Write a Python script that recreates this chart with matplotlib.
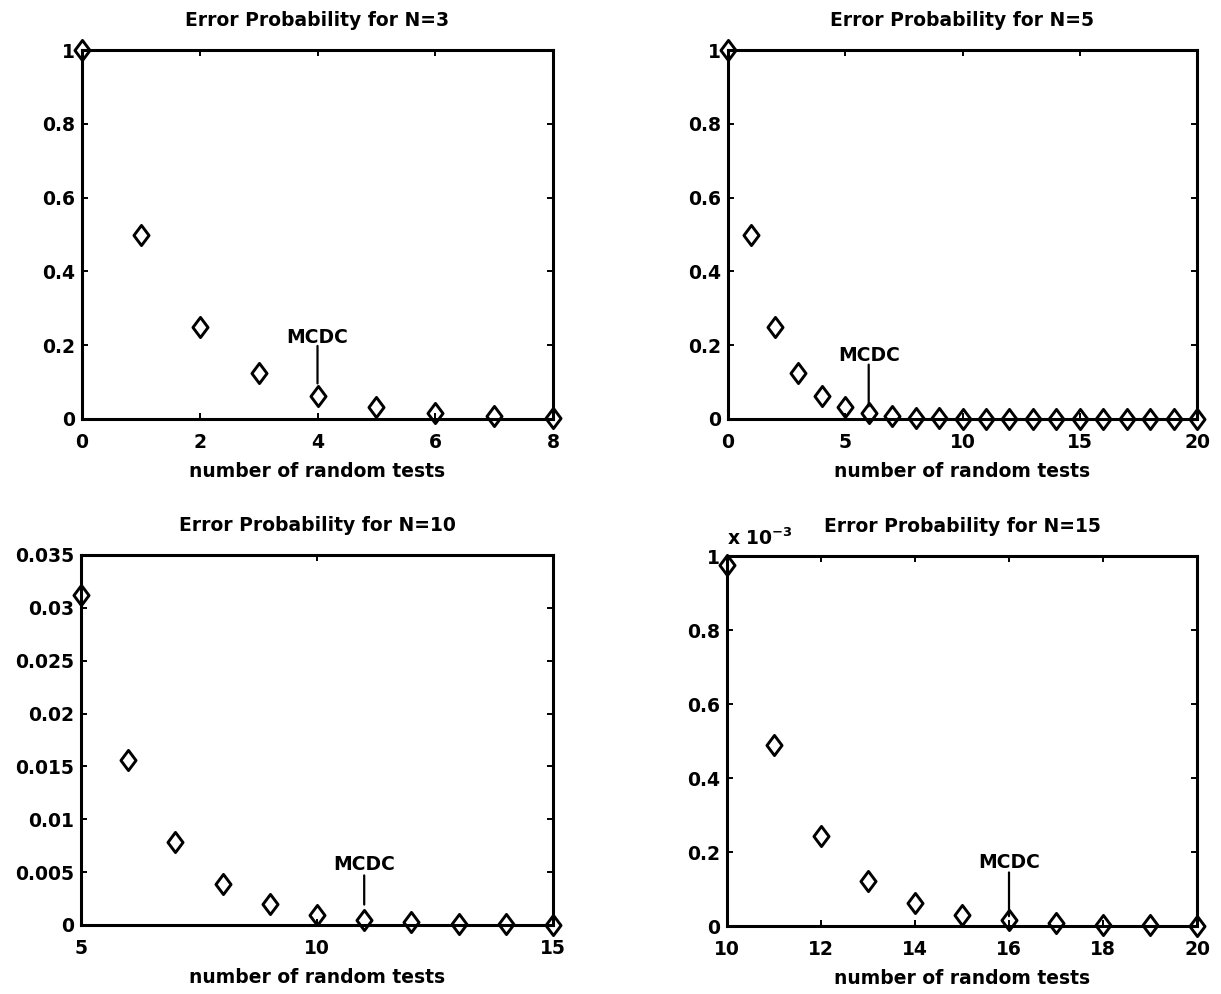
import matplotlib
matplotlib.use("Agg")
import matplotlib.pyplot as plt
from matplotlib.ticker import FuncFormatter
from matplotlib.path import Path

# error probability after k random tests, for each N
tests_n3 = [0, 1, 2, 3, 4, 5, 6, 7, 8]
prob_n3 = [1.0, 0.5, 0.25, 0.125, 0.0625, 0.03125, 0.015625, 0.0078125, 0.00390625]

tests_n5 = list(range(0, 21))
prob_n5 = [1.0, 0.5, 0.25, 0.125, 0.0625, 0.03125, 0.015625, 0.0078125,
           0.00390625, 0.001953125, 0.0009765625, 0.00048828125,
           0.000244140625, 0.0001220703125, 6.103515625e-05, 3.0517578125e-05,
           1.52587890625e-05, 7.62939453125e-06, 3.814697265625e-06,
           1.9073486328125e-06, 9.5367431640625e-07]

tests_n10 = list(range(5, 16))
prob_n10 = [0.03125, 0.015625, 0.0078125, 0.00390625, 0.001953125,
            0.0009765625, 0.00048828125, 0.000244140625, 0.0001220703125,
            6.103515625e-05, 3.0517578125e-05]

tests_n15 = list(range(10, 21))
prob_n15 = [9.765625e-04, 4.8828125e-04, 2.44140625e-04, 1.220703125e-04,
            6.103515625e-05, 3.0517578125e-05, 1.52587890625e-05,
            7.62939453125e-06, 3.814697265625e-06, 1.9073486328125e-06,
            9.5367431640625e-07]

# number of tests needed for MC/DC coverage
mcdc_n3, mcdc_n5, mcdc_n10, mcdc_n15 = 4, 6, 11, 16

plt.rcParams["font.family"] = "DejaVu Sans"
plt.rcParams["font.weight"] = "bold"
plt.rcParams["mathtext.default"] = "bf"
FS = 13.5

# MATLAB-style diamond (a bit narrower than tall)
diamond = Path([(0, 1), (0.75, 0), (0, -1), (-0.75, 0), (0, 1)],
               [Path.MOVETO, Path.LINETO, Path.LINETO, Path.LINETO, Path.CLOSEPOLY])

fig = plt.figure(figsize=(12.21, 9.94), dpi=100)
W, H = 1221.0, 994.0


def make_axes(x0, y0, x1, y1):
    return fig.add_axes([x0 / W, 1 - y1 / H, (x1 - x0) / W, (y1 - y0) / H])


ax_n3 = make_axes(82, 50, 553, 419)
ax_n5 = make_axes(728, 50, 1197, 419)
ax_n10 = make_axes(81, 555, 553, 925)
ax_n15 = make_axes(727, 556, 1197, 926)

panels = [
    (ax_n3, tests_n3, prob_n3, "Error Probability for N=3", (0, 8), [0, 2, 4, 6, 8],
     (0, 1), [0, 0.2, 0.4, 0.6, 0.8, 1], 1.0, mcdc_n3, (9, 36, 38)),
    (ax_n5, tests_n5, prob_n5, "Error Probability for N=5", (0, 20), [0, 5, 10, 15, 20],
     (0, 1), [0, 0.2, 0.4, 0.6, 0.8, 1], 1.0, mcdc_n5, (5, 35, 37.5)),
    (ax_n10, tests_n10, prob_n10, "Error Probability for N=10", (5, 15), [5, 10, 15],
     (0, 0.035), [0, 0.005, 0.01, 0.015, 0.02, 0.025, 0.03, 0.035], 1.0, mcdc_n10, (11, 32, 36)),
    (ax_n15, tests_n15, prob_n15, "Error Probability for N=15", (10, 20), [10, 12, 14, 16, 18, 20],
     (0, 1e-3), [0, 0.2e-3, 0.4e-3, 0.6e-3, 0.8e-3, 1e-3], 1e3, mcdc_n15, (3, 34.5, 37.5)),
]

for ax, xs, ys, title, xlim, xticks, ylim, yticks, scale, mcdc, offs in panels:
    ax.plot(xs, ys, linestyle="none", marker=diamond, markersize=14.5,
            markerfacecolor="none", markeredgecolor="black", markeredgewidth=2.1,
            clip_on=False, zorder=5)
    ax.set_xlim(*xlim)
    ax.set_ylim(*ylim)
    ax.set_xticks(xticks)
    ax.set_yticks(yticks)
    ax.xaxis.set_major_formatter(FuncFormatter(lambda v, p: "%g" % v))
    ax.yaxis.set_major_formatter(FuncFormatter(lambda v, p, s=scale: "%g" % round(v * s, 6)))
    ax.tick_params(direction="in", top=True, right=True, length=4, width=1.4,
                   labelsize=FS)
    ax.tick_params(axis="x", pad=10)
    ax.tick_params(axis="y", pad=5)
    for sp in ax.spines.values():
        sp.set_linewidth(2.2)
    ax.set_title(title, fontsize=FS, fontweight="bold", pad=17)
    ax.set_xlabel("number of random tests", fontsize=FS, fontweight="bold", labelpad=7)

    # MCDC marker: label above the point with a short leader line
    y_m = ys[xs.index(mcdc)]
    lo, hi, txt = offs
    ax.annotate("", xy=(mcdc, y_m), xytext=(0, hi), textcoords="offset points",
                arrowprops=dict(arrowstyle="-", lw=1.6, color="black",
                                shrinkA=0, shrinkB=lo))
    ax.annotate("MCDC", xy=(mcdc, y_m), xytext=(0, txt), textcoords="offset points",
                ha="center", va="baseline", fontsize=FS, fontweight="bold")

ax_n15.annotate(r"x 10$^{-3}$", xy=(0, 1), xycoords="axes fraction",
                xytext=(0, 8), textcoords="offset points",
                ha="left", va="baseline", fontsize=FS, fontweight="bold")

fig.savefig("out.png", dpi=100)
